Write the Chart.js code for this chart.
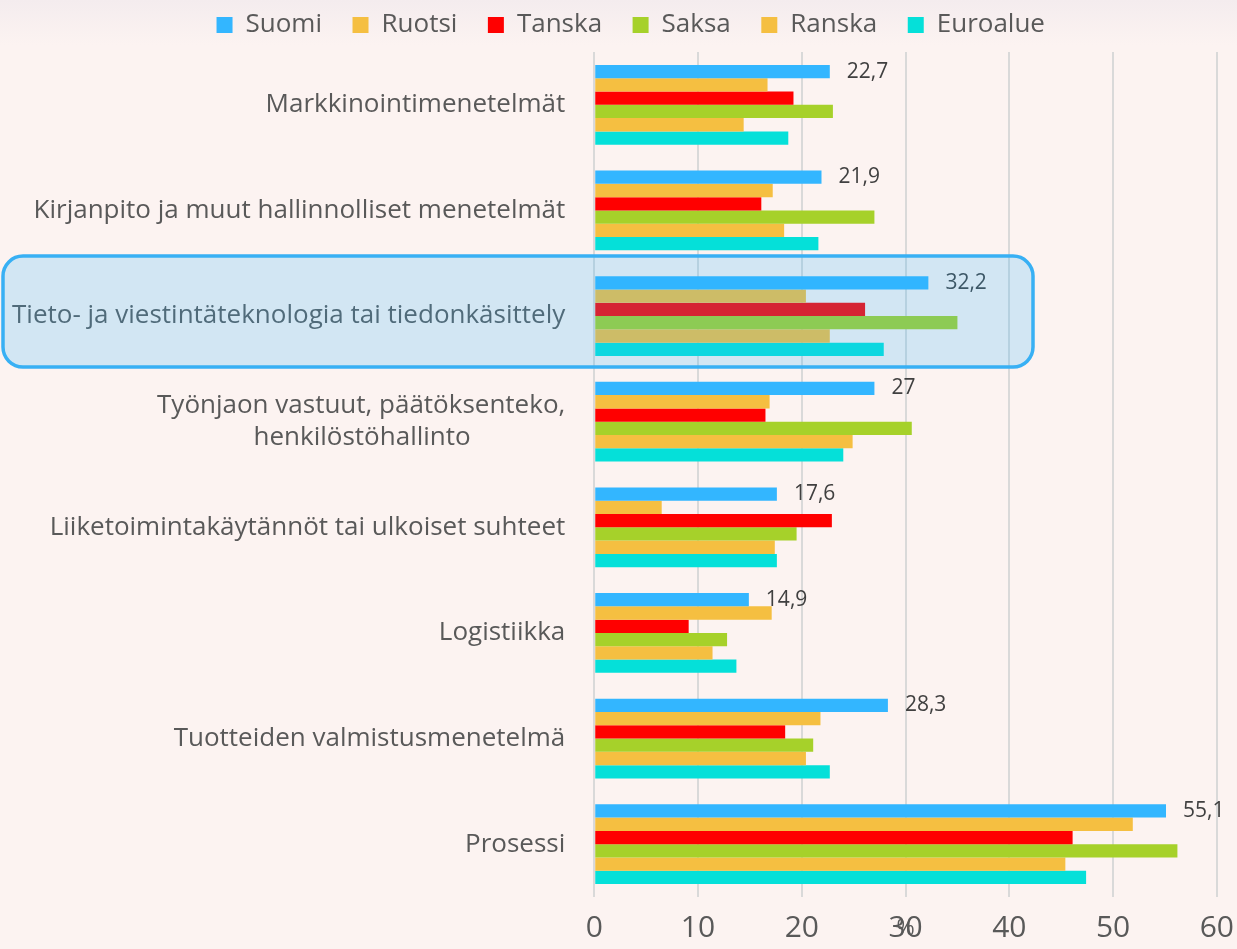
<!DOCTYPE html>
<html>
<head>
<meta charset="utf-8">
<script src="https://cdn.jsdelivr.net/npm/chart.js@4.4.1/dist/chart.umd.min.js"></script>
<style>
    body { margin: 0; background: linear-gradient(#f4ecee 0px, #fcf3f1 45px, #fcf3f1 100%); }
    #wrap { width: 1237px; height: 949px; }
</style>
</head>
<body>
<div id="wrap"><canvas id="chart" width="1237" height="949"></canvas></div>
<script>
// categories (top to bottom)
const categories = [
    "Markkinointimenetelmät",
    "Kirjanpito ja muut hallinnolliset menetelmät",
    "Tieto- ja viestintäteknologia tai tiedonkäsittely",
    ["Työnjaon vastuut, päätöksenteko,", "henkilöstöhallinto"],
    "Liiketoimintakäytännöt tai ulkoiset suhteet",
    "Logistiikka",
    "Tuotteiden valmistusmenetelmä",
    "Prosessi"
];

// series values, %
const suomi    = [22.7, 21.9, 32.2, 27.0, 17.6, 14.9, 28.3, 55.1];
const ruotsi   = [16.7, 17.2, 20.4, 16.9,  6.5, 17.1, 21.8, 51.9];
const tanska   = [19.2, 16.1, 26.1, 16.5, 22.9,  9.1, 18.4, 46.1];
const saksa    = [23.0, 27.0, 35.0, 30.6, 19.5, 12.8, 21.1, 56.2];
const ranska   = [14.4, 18.3, 22.7, 24.9, 17.4, 11.4, 20.4, 45.4];
const euroalue = [18.7, 21.6, 27.9, 24.0, 17.6, 13.7, 22.7, 47.4];

const seriesNames = ["Suomi", "Ruotsi", "Tanska", "Saksa", "Ranska", "Euroalue"];
const seriesColors = ["#33b6ff", "#f5bf41", "#ff0000", "#a6d12a", "#f5bf41", "#05e0d9"];
const seriesData = [suomi, ruotsi, tanska, saksa, ranska, euroalue];

const highlightIndex = 2;
const FONT = "'Open Sans', 'Noto Sans', sans-serif";
const TICK_PAD = 3;
const TICK_SIZE = 30;
const TICK_LH = 1.9;

// value labels for Suomi only
const valueLabels = {
    id: "valueLabels",
    afterDatasetsDraw(chart) {
        const ctx = chart.ctx;
        const meta = chart.getDatasetMeta(0);
        ctx.save();
        ctx.font = "21px " + FONT;
        ctx.fillStyle = "#404040";
        ctx.textAlign = "left";
        ctx.textBaseline = "middle";
        meta.data.forEach((bar, i) => {
            const txt = String(suomi[i]).replace(".", ",");
            ctx.fillText(txt, bar.x + 17, bar.y);
        });
        ctx.restore();
    }
};

// "%" axis title + highlight box around third category
const extras = {
    id: "extras",
    beforeDraw(chart) {
        // legend sits a bit right of centre in the original
        chart.legend.left = 19;
        chart.legend.right = chart.width + 19;
        chart.legend.adjustHitBoxes();
    },
    afterDraw(chart) {
        const ctx = chart.ctx;
        const x = chart.scales.x;
        const y = chart.scales.y;
        ctx.save();
        ctx.font = "22px " + FONT;
        ctx.fillStyle = "#595959";
        ctx.textAlign = "center";
        ctx.textBaseline = "middle";
        ctx.fillText("%", x.getPixelForValue(30), x.top + TICK_PAD + TICK_SIZE * TICK_LH / 2);

        const cy = y.getPixelForValue(highlightIndex);
        const left = 3, right = 1033, top = cy - 60, bottom = cy + 51, r = 20;
        ctx.beginPath();
        ctx.moveTo(left + r, top);
        ctx.lineTo(right - r, top);
        ctx.arcTo(right, top, right, top + r, r);
        ctx.lineTo(right, bottom - r);
        ctx.arcTo(right, bottom, right - r, bottom, r);
        ctx.lineTo(left + r, bottom);
        ctx.arcTo(left, bottom, left, bottom - r, r);
        ctx.lineTo(left, top + r);
        ctx.arcTo(left, top, left + r, top, r);
        ctx.closePath();
        ctx.fillStyle = "rgba(45, 180, 255, 0.2)";
        ctx.fill();
        ctx.lineWidth = 3.5;
        ctx.strokeStyle = "#38b0f4";
        ctx.stroke();
        ctx.restore();
    }
};

new Chart(document.getElementById("chart"), {
    type: "bar",
    data: {
        labels: categories,
        datasets: seriesNames.map((name, i) => ({
            label: name,
            data: seriesData[i],
            backgroundColor: seriesColors[i],
            borderWidth: 0,
            barPercentage: 1.0,
            categoryPercentage: 0.755
        }))
    },
    options: {
        indexAxis: "y",
        responsive: false,
        animation: false,
        layout: { padding: { top: -5, right: 8, bottom: -11, left: -17 } },
        plugins: {
            legend: {
                position: "top",
                labels: {
                    boxWidth: 16,
                    boxHeight: 16,
                    padding: 17,
                    color: "#595959",
                    font: { family: FONT, size: 26 },
                    generateLabels(chart) {
                        const items = Chart.defaults.plugins.legend.labels.generateLabels(chart);
                        items.forEach(it => { it.text = it.text + "  "; it.lineWidth = 0; });
                        return items;
                    }
                }
            },
            // empty spacer between legend and plot
            subtitle: {
                display: true,
                text: "",
                weight: 500,
                padding: 0,
                font: { size: 4, lineHeight: 1 }
            },
            tooltip: { enabled: false }
        },
        scales: {
            x: {
                min: 0,
                max: 60,
                ticks: {
                    stepSize: 10,
                    padding: TICK_PAD,
                    color: "#595959",
                    font: { family: FONT, size: TICK_SIZE, lineHeight: TICK_LH }
                },
                grid: { color: "#d9d9d9", lineWidth: 2, drawTicks: false },
                border: { display: false }
            },
            y: {
                ticks: {
                    autoSkip: false,
                    padding: 29,
                    color: "#595959",
                    font: { family: FONT, size: 26, lineHeight: 1.24 },
                    callback(value, index) {
                        const lab = categories[index];
                        if (Array.isArray(lab)) {
                            return [lab[0], lab[1] + " ".repeat(14)];
                        }
                        return lab;
                    }
                },
                grid: { display: false, drawTicks: false },
                border: { display: false }
            }
        }
    },
    plugins: [valueLabels, extras]
});
</script>
</body>
</html>
